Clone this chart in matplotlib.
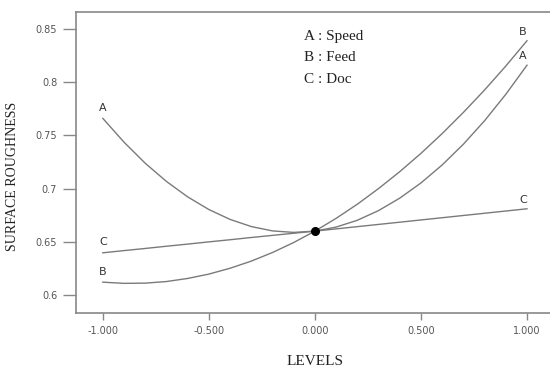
import matplotlib.pyplot as plt

levels = [-1.0, -0.9, -0.8, -0.7, -0.6, -0.5, -0.4, -0.3, -0.2, -0.1, 0.0,
          0.1, 0.2, 0.3, 0.4, 0.5, 0.6, 0.7, 0.8, 0.9, 1.0]
speed = [0.766, 0.7436, 0.7238, 0.7067, 0.6922, 0.6803, 0.6710, 0.6643, 0.6602, 0.6588, 0.660,
         0.6638, 0.6702, 0.6793, 0.6910, 0.7053, 0.7222, 0.7417, 0.7638, 0.7886, 0.816]
feed = [0.612, 0.6109, 0.6111, 0.6126, 0.6155, 0.6196, 0.6251, 0.6318, 0.6399, 0.6493, 0.660,
        0.6720, 0.6853, 0.7000, 0.7159, 0.7331, 0.7517, 0.7716, 0.7927, 0.8152, 0.839]
doc = [0.6396, 0.6417, 0.6437, 0.6458, 0.6478, 0.6499, 0.6519, 0.6540, 0.6560, 0.6580, 0.660,
       0.6621, 0.6642, 0.6663, 0.6684, 0.6705, 0.6726, 0.6747, 0.6768, 0.6789, 0.681]

xticks = [-1.0, -0.5, 0.0, 0.5, 1.0]
xticklabels = ['-1.000', '-0.500', '0.000', '0.500', '1.000']
yticks = [0.6, 0.65, 0.7, 0.75, 0.8, 0.85]
yticklabels = ['0.6', '0.65', '0.7', '0.75', '0.8', '0.85']

fig = plt.figure(figsize=(5.5, 3.7), dpi=100)
ax = fig.add_axes([0.138, 0.154, 0.862, 0.8135])

line_col = '#7a7a7a'
ax.plot(levels, speed, color=line_col, lw=1.0)
ax.plot(levels, feed, color=line_col, lw=1.0)
ax.plot(levels, doc, color=line_col, lw=1.0)
ax.plot([0.0], [speed[10]], marker='o', color='black', markersize=5.5)

# curve letters at both ends
lbl = dict(fontsize=8, color='#333333', family='DejaVu Sans', ha='center')
ax.annotate('A', (levels[0], speed[0]), xytext=(0, 4), textcoords='offset points', va='bottom', **lbl)
ax.annotate('C', (levels[0], doc[0]), xytext=(0, 4), textcoords='offset points', va='bottom', **lbl)
ax.annotate('B', (levels[0], feed[0]), xytext=(0, 4), textcoords='offset points', va='bottom', **lbl)
ax.annotate('B', (levels[-1], feed[-1]), xytext=(-3, 3), textcoords='offset points', va='bottom', **lbl)
ax.annotate('A', (levels[-1], speed[-1]), xytext=(-3, 3), textcoords='offset points', va='bottom', **lbl)
ax.annotate('C', (levels[-1], doc[-1]), xytext=(-3, 3), textcoords='offset points', va='bottom', **lbl)

for i, t in enumerate(['A : Speed', 'B : Feed', 'C : Doc']):
    ax.text(0.481, 0.920 - i * 0.0715, t, transform=ax.transAxes, fontsize=11,
            family='Liberation Serif', color='#222222', va='center', ha='left')

ax.set_xlim(-1.127, 1.1085)
ax.set_ylim(0.583, 0.866)
ax.set_xticks(xticks)
ax.set_xticklabels(xticklabels)
ax.set_yticks(yticks)
ax.set_yticklabels(yticklabels)
ax.tick_params(axis='x', length=5, width=1, color='#888888', labelsize=7, labelcolor='#555555', pad=4)
ax.tick_params(axis='y', length=9.5, width=1, color='#888888', labelsize=7, labelcolor='#555555', pad=4)
ax.spines['right'].set_visible(False)
for s in ['top', 'left', 'bottom']:
    ax.spines[s].set_color('#888888')
    ax.spines[s].set_linewidth(1.2)

ax.set_xlabel('LEVELS', family='Liberation Serif', fontsize=11, color='#222222')
ax.xaxis.set_label_coords(0.504, -0.138)
ax.set_ylabel('SURFACE ROUGHNESS', family='Liberation Serif', fontsize=10, color='#222222')
ax.yaxis.set_label_coords(-0.12, 0.455)

fig.savefig('out.png', dpi=100)
